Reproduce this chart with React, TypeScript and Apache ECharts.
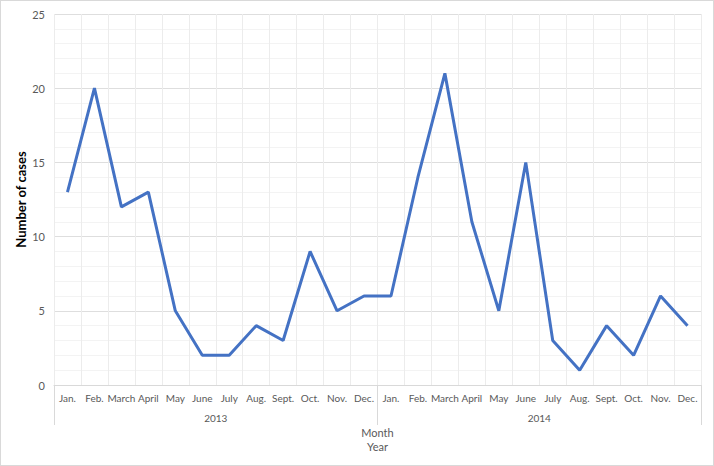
import React, { useEffect, useRef } from "react";
import * as echarts from "echarts";

const months = ["Jan.", "Feb.", "March", "April", "May", "June", "July", "Aug.", "Sept.", "Oct.", "Nov.", "Dec."];
const years = ["2013", "2014"];
const cases2013 = [13, 20, 12, 13, 5, 2, 2, 4, 3, 9, 5, 6];
const cases2014 = [6, 14, 21, 11, 5, 15, 3, 1, 4, 2, 6, 4];

const categories = [...months.map((m) => m + "|2013"), ...months.map((m) => m + "|2014")];
const values = [...cases2013, ...cases2014];

const FONT = "Lato, 'Liberation Sans', sans-serif";
const TEXT = "#595959";

export default function App() {
  const ref = useRef<HTMLDivElement>(null);
  useEffect(() => {
    if (!ref.current) return;
    const chart = echarts.init(ref.current, undefined, { renderer: "svg" });
    chart.setOption({
      animation: false,
      backgroundColor: "#ffffff",
      grid: { left: 54, right: 13, top: 14, bottom: 81, containLabel: false },
      xAxis: [
        {
          type: "category",
          data: categories,
          boundaryGap: true,
          axisLine: { show: true, lineStyle: { color: "#d9d9d9", width: 1 } },
          axisTick: { show: false },
          splitLine: { show: true, interval: 0, lineStyle: { color: "#ececec", width: 1 } },
          axisLabel: {
            interval: 0,
            margin: 8,
            color: TEXT,
            fontFamily: FONT,
            fontSize: 10,
            formatter: (v: string) => v.split("|")[0],
          },
        },
        {
          type: "category",
          data: years,
          position: "bottom",
          boundaryGap: true,
          axisLine: { show: false },
          axisTick: { show: true, interval: 0, length: 40, lineStyle: { color: "#d9d9d9" } },
          splitLine: { show: false },
          axisLabel: { interval: 0, margin: 28, color: TEXT, fontFamily: FONT, fontSize: 10 },
          name: "Month\nYear",
          nameLocation: "middle",
          nameGap: 40,
          nameMoveOverlap: false,
          nameTextStyle: { color: TEXT, fontFamily: FONT, fontSize: 11, lineHeight: 14 },
        },
      ],
      yAxis: {
        type: "value",
        min: 0,
        max: 25,
        interval: 5,
        axisLine: { show: false },
        axisTick: { show: false },
        axisLabel: { color: TEXT, fontFamily: FONT, fontSize: 11, margin: 9 },
        splitLine: { show: true, lineStyle: { color: "#dedede", width: 1 } },
        minorTick: { show: false, splitNumber: 5 },
        minorSplitLine: { show: true, lineStyle: { color: "#f3f3f3", width: 1 } },
        name: "Number of cases",
        nameLocation: "middle",
        nameGap: 27,
        nameMoveOverlap: false,
        nameTextStyle: { color: "#000000", fontFamily: FONT, fontSize: 13, fontWeight: "bold" },
      },
      series: [
        {
          type: "line",
          xAxisIndex: 0,
          data: values,
          symbol: "none",
          lineStyle: { color: "#4472C4", width: 3 },
          itemStyle: { color: "#4472C4" },
        },
      ],
    });
    return () => chart.dispose();
  }, []);
  return (
    <div style={{ position: "fixed", left: 0, top: 0, width: 714, height: 466 }}>
      <div ref={ref} style={{ width: 714, height: 466 }} />
      <div
        style={{
          position: "absolute",
          left: 0,
          top: 0,
          width: 714,
          height: 466,
          boxSizing: "border-box",
          border: "1px solid #d9d9d9",
          pointerEvents: "none",
        }}
      />
    </div>
  );
}
